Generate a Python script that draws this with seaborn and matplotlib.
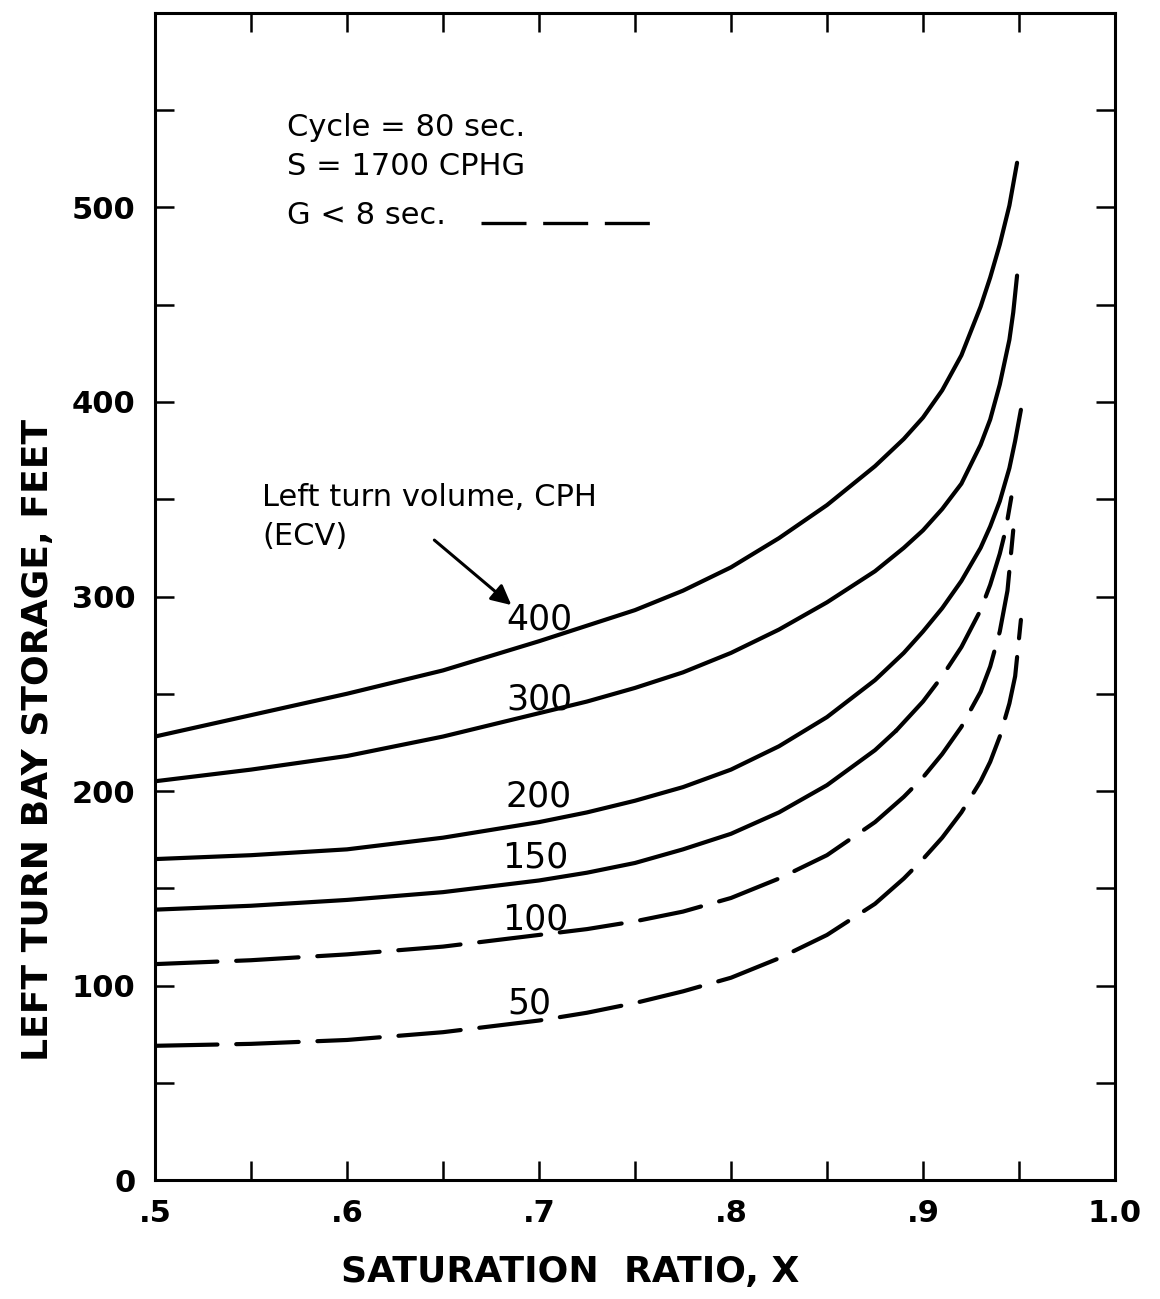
import matplotlib

matplotlib.use("Agg")

import matplotlib.pyplot as plt
import pandas as pd
import seaborn as sns
from matplotlib.ticker import FixedLocator, FuncFormatter, MultipleLocator

# values: saturation ratio X vs storage length (feet)
X_400 = [0.50, 0.55, 0.60, 0.65, 0.70, 0.725, 0.75, 0.775, 0.80, 0.825, 0.85, 0.875,
         0.89, 0.90, 0.91, 0.92, 0.93, 0.935, 0.94, 0.945, 0.949]
Y_400 = [228, 239, 250, 262, 277, 285, 293, 303, 315, 330, 347, 367,
         381, 392, 406, 424, 449, 464, 481, 501, 523]

X_300 = [0.50, 0.55, 0.60, 0.65, 0.70, 0.725, 0.75, 0.775, 0.80, 0.825, 0.85, 0.875,
         0.89, 0.90, 0.91, 0.92, 0.93, 0.935, 0.94, 0.945, 0.947, 0.949]
Y_300 = [205, 211, 218, 228, 240, 246, 253, 261, 271, 283, 297, 313,
         325, 334, 345, 358, 378, 391, 409, 432, 446, 465]

X_200 = [0.50, 0.55, 0.60, 0.65, 0.70, 0.725, 0.75, 0.775, 0.80, 0.825, 0.85, 0.875,
         0.89, 0.90, 0.91, 0.92, 0.93, 0.935, 0.94, 0.945, 0.948, 0.951]
Y_200 = [165, 167, 170, 176, 184, 189, 195, 202, 211, 223, 238, 257,
         271, 282, 294, 308, 325, 336, 349, 366, 380, 396]

X_150 = [0.50, 0.55, 0.60, 0.65, 0.70, 0.725, 0.75, 0.775, 0.80, 0.825, 0.85, 0.875,
         0.886, 0.90, 0.91, 0.92, 0.93, 0.935, 0.94, 0.943, 0.946]
Y_150 = [139, 141, 144, 148, 154, 158, 163, 170, 178, 189, 203, 221,
         231, 246, 259, 274, 293, 306, 322, 334, 351]
SPLIT_150 = 0.886  # solid below, dashed (G < 8 sec.) above

X_100 = [0.50, 0.55, 0.60, 0.65, 0.70, 0.725, 0.75, 0.775, 0.80, 0.825, 0.85, 0.875,
         0.89, 0.90, 0.91, 0.92, 0.93, 0.935, 0.94, 0.944, 0.947]
Y_100 = [111, 113, 116, 120, 126, 129, 133, 138, 145, 155, 167, 184,
         197, 207, 219, 233, 251, 264, 282, 303, 334]

X_50 = [0.50, 0.55, 0.60, 0.65, 0.70, 0.725, 0.75, 0.775, 0.80, 0.825, 0.85, 0.875,
        0.89, 0.90, 0.91, 0.92, 0.93, 0.935, 0.94, 0.945, 0.948, 0.951]
Y_50 = [69, 70, 72, 76, 82, 86, 91, 97, 104, 114, 126, 142,
        155, 165, 176, 189, 205, 215, 228, 245, 259, 288]

CURVE_LABELS = ["400", "300", "200", "150", "100", "50"]
LABEL_X = [0.700, 0.700, 0.700, 0.698, 0.698, 0.695]
LABEL_Y = [288, 247, 197, 166, 134, 91]

X_TICKS = [0.5, 0.6, 0.7, 0.8, 0.9, 1.0]
Y_TICKS = [0, 100, 200, 300, 400, 500]

sns.set_theme(style="ticks")
plt.rcParams["font.family"] = ["DejaVu Sans"]
plt.rcParams.update({
    "text.color": "black",
    "axes.labelcolor": "black",
    "xtick.color": "black",
    "ytick.color": "black",
    "axes.edgecolor": "black",
})

SOLID = "-"
DASHED = (0, (15, 4.5))
LW = 3.0

fig = plt.figure(figsize=(11.6, 12.99), dpi=100)
ax = fig.add_axes([0.1336, 0.0916, 0.8276, 0.8984])


def draw(xs, ys, style):
    df = pd.DataFrame({"x": xs, "y": ys})
    sns.lineplot(
        data=df, x="x", y="y", ax=ax, color="black", linewidth=LW,
        linestyle=style, dash_capstyle="round", solid_capstyle="round",
        solid_joinstyle="round",
    )


draw(X_400, Y_400, SOLID)
draw(X_300, Y_300, SOLID)
draw(X_200, Y_200, SOLID)

solid_150 = [(x, y) for x, y in zip(X_150, Y_150) if x <= SPLIT_150]
dash_150 = [(x, y) for x, y in zip(X_150, Y_150) if x >= SPLIT_150]
draw([p[0] for p in solid_150], [p[1] for p in solid_150], SOLID)
draw([p[0] for p in dash_150], [p[1] for p in dash_150], DASHED)

draw(X_100, Y_100, DASHED)
draw(X_50, Y_50, DASHED)

for lab, lx, ly in zip(CURVE_LABELS, LABEL_X, LABEL_Y):
    ax.text(lx, ly, lab, fontsize=25, ha="center", va="center")

# parameter block
ax.text(0.5686, 541, "Cycle = 80 sec.", fontsize=22, va="center")
ax.text(0.5686, 521, "S = 1700 CPHG", fontsize=22, va="center")
ax.text(0.5686, 496, "G < 8 sec.", fontsize=22, va="center")
ax.plot([0.670, 0.758], [492, 492], color="black", linewidth=2.4,
        linestyle=(0, (13.5, 5)))

ax.text(0.556, 351, "Left turn volume, CPH", fontsize=22, va="center")
ax.text(0.556, 331, "(ECV)", fontsize=22, va="center")
ax.annotate(
    "", xy=(0.6856, 295.6), xytext=(0.6455, 329),
    arrowprops=dict(arrowstyle="-|>", color="black", lw=2.2,
                    mutation_scale=30, shrinkA=0, shrinkB=0),
)

ax.set_xlim(0.5, 1.0)
ax.set_ylim(0, 600)
ax.xaxis.set_major_locator(FixedLocator(X_TICKS))
ax.xaxis.set_minor_locator(MultipleLocator(0.05))
ax.xaxis.set_major_formatter(
    FuncFormatter(lambda v, _: "1.0" if v >= 0.999 else f"{v:.1f}".lstrip("0"))
)
ax.yaxis.set_major_locator(FixedLocator(Y_TICKS))
ax.yaxis.set_minor_locator(MultipleLocator(50))

ax.tick_params(which="both", direction="in", top=True, right=True,
               length=14, width=1.8, color="black")
ax.tick_params(which="major", labelsize=22, pad=14)
for lab in ax.get_xticklabels() + ax.get_yticklabels():
    lab.set_fontweight("bold")
for side in ["left", "right", "top", "bottom"]:
    ax.spines[side].set_linewidth(2.2)

ax.set_xlabel("SATURATION  RATIO, X", fontsize=26, fontweight="bold")
ax.set_ylabel("LEFT TURN BAY STORAGE, FEET", fontsize=26, fontweight="bold")
ax.xaxis.set_label_coords(0.432, -0.064)
ax.yaxis.set_label_coords(-0.104, 0.377)

fig.savefig("out.png", dpi=100)
